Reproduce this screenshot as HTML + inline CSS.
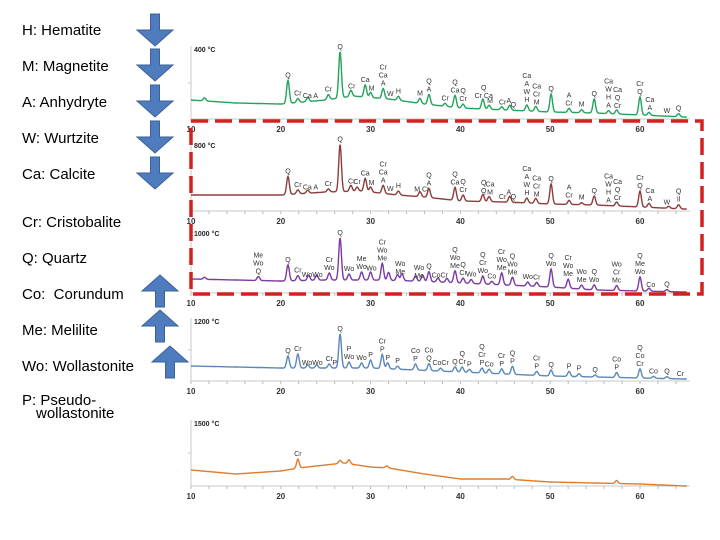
<!DOCTYPE html>
<html><head><meta charset="utf-8">
<style>
body{margin:0;background:#fff;width:720px;height:540px;overflow:hidden;font-family:"Liberation Sans",sans-serif}
svg{position:absolute;left:0;top:0}
</style></head>
<body>
<svg id="s" width="720" height="540" viewBox="0 0 720 540">
 <g id="legend" font-size="15" fill="#000">
  <text x="22" y="35">H: Hematite</text>
  <text x="22" y="71">M: Magnetite</text>
  <text x="22" y="107">A: Anhydryte</text>
  <text x="22" y="143">W: Wurtzite</text>
  <text x="22" y="179">Ca: Calcite</text>
  <text x="22" y="227">Cr: Cristobalite</text>
  <text x="22" y="263">Q: Quartz</text>
  <text x="22" y="299">Co:&#160; Corundum</text>
  <text x="22" y="335">Me: Melilite</text>
  <text x="22" y="371">Wo: Wollastonite</text>
  <text x="22" y="405">P: Pseudo-</text>
  <text x="36" y="418">wollastonite</text>
 </g>
 <g id="arrows"></g>
 <g id="plots"></g>
 <rect x="191" y="121" width="511" height="173" fill="none" stroke="#d42020" stroke-width="3.5" stroke-dasharray="17 7"/>
</svg>
<script>
// ---- data ----
const temps = ["400 °C","800 °C","1000 °C","1200 °C","1500 °C"];
const bg400 = [[10,19],[15,16],[20,15],[25,19],[28,23],[32,20],[36,15],[40,11],[45,9],[50,7],[55,6],[60,4],[65,2]];
const pk400 = [[11.5,3],[20.8,23],[21.9,4],[23.0,4],[25.3,5],[26.6,46],[27.8,6],[29.4,12],[30.0,5],[31.4,10],[33.1,4],[35.5,5],[36.5,10],[38.3,3],[39.4,12],[40.3,4],[42.5,10],[43.2,4],[44.6,3],[45.5,5],[47.4,6],[48.4,5],[50.1,18],[52.1,4],[53.5,3],[54.9,14],[56.5,3],[57.4,4],[60.0,18],[61.0,3],[64.3,3]];
const bg800 = [[10,16],[20,16],[25,19],[29,20],[33,16],[36,14],[40,10],[45,9],[50,7],[55,6],[60,4],[65,2]];
const pk800 = [[20.8,18],[21.9,4],[23.0,3],[25.3,3],[26.6,47],[27.8,6],[28.5,4],[29.4,13],[30.0,5],[31.4,8],[33.1,4],[35.5,5],[36.5,9],[39.4,13],[40.3,6],[42.5,7],[43.2,5],[45.5,6],[47.4,5],[48.4,5],[50.1,20],[52.1,4],[53.5,2],[54.9,9],[57.4,4],[60.0,16],[61.0,4],[63.2,2],[64.3,4]];
const bg1000 = [[10,14],[20,12],[25,13],[30,13],[35,12],[40,10],[45,8],[50,6],[55,3],[60,2],[65,1]];
const pk1000 = [[11.5,2],[17.5,4],[20.8,16],[21.9,5],[23.1,5],[24.0,5],[25.4,7],[26.6,42],[27.6,6],[29.0,8],[30.0,8],[31.3,17],[32.0,8],[33.0,6],[33.5,7],[35.0,5],[35.8,6],[36.5,10],[37.5,4],[38.5,4],[39.4,12],[40.3,5],[41.2,4],[42.5,8],[43.5,3],[44.6,12],[45.8,8],[47.5,4],[48.5,4],[50.1,18],[52.0,9],[53.5,4],[54.9,5],[57.4,5],[60.0,14],[61.0,3],[63.0,2]];
const bg1200 = [[10,15],[20,13],[25,13],[30,13],[35,11],[40,9],[45,7],[50,5],[55,4],[60,3],[65,2]];
const pk1200 = [[20.8,12],[21.9,14],[23.0,3],[24.0,3],[25.4,4],[26.6,34],[27.6,6],[29.0,5],[30.0,8],[31.3,14],[31.9,6],[33.0,3],[35.0,6],[36.5,7],[37.8,3],[39.4,5],[40.2,5],[41.0,3],[42.4,5],[43.2,4],[44.6,5],[45.8,8],[48.5,4],[50.1,6],[52.1,5],[53.2,3],[55.0,2],[57.4,5],[60.0,9],[61.5,2],[63.0,2]];
const bg1500 = [[10,16],[15,12],[20,15],[22,18],[27,23],[30,19],[32,18],[36,12],[40,7],[45,7],[50,4],[55,3],[60,2],[65,0]];
const pk1500 = [[21.9,9],[26.6,3],[27.6,4],[31.8,2],[45.8,3],[57.4,3]];
const lb400 = [[20.8,"Q"],[21.9,"Cr"],[23.3,"Ca A"],[25.3,"Cr"],[26.6,"Q"],[27.9,"Cr"],[29.4,"Ca"],[30.1,"M"],[31.4,"Cr|Ca|A"],[32.2,"W"],[33.1,"H"],[35.5,"M"],[36.5,"Q|A"],[38.3,"Cr"],[39.4,"Q|Ca"],[40.3,"Q|Cr"],[42.6,"Q|Cr Ca"],[43.3,"M"],[44.7,"Cr"],[45.4,"A"],[45.9,"Q"],[47.4,"Ca|A|W|H"],[48.5,"Ca|Cr|M"],[50.1,"Q"],[52.1,"A|Cr"],[53.5,"M"],[54.9,"Q"],[56.5,"Ca|W|H|A"],[57.5,"Ca|Q|Cr"],[60.0,"Cr|Q"],[61.1,"Ca|A"],[63.0,"W"],[64.3,"Q"]];
const lb800 = [[20.8,"Q"],[21.9,"Cr"],[23.3,"Ca A"],[25.3,"Cr"],[26.6,"Q"],[27.9,"Cr"],[28.5,"Cr"],[29.4,"Ca"],[30.1,"M"],[31.4,"Cr|Ca|A"],[32.2,"W"],[33.1,"H"],[35.7,"M Cr"],[36.5,"Q|A"],[39.4,"Q|Ca"],[40.3,"Q|Cr"],[42.6,"Q|Q"],[43.3,"Ca|M"],[44.7,"Cr"],[45.4,"A"],[45.9,"Q"],[47.4,"Ca|A|W|H"],[48.5,"Ca|Cr|M"],[50.1,"Q"],[52.1,"A|Cr"],[53.5,"M"],[54.9,"Q"],[56.5,"Ca|W|H|A"],[57.5,"Ca|Q|Cr"],[60.0,"Cr|Q"],[61.1,"Ca|A"],[63.0,"W"],[64.3,"Q|Il"]];
const lb1000 = [[17.5,"Me|Wo|Q"],[20.8,"Q"],[21.9,"Cr"],[23.5,"WoWo"],[25.4,"Cr|Wo"],[26.6,"Q"],[27.6,"Wo"],[29.0,"Me|Wo"],[30.1,"Wo"],[31.3,"Cr|Wo|Me"],[33.3,"Wo|Me"],[35.4,"Wo|Me"],[36.5,"Q"],[37.7,"CoCr"],[39.4,"Q|Wo|Me"],[40.3,"Q|Cr"],[41.2,"Wo"],[42.5,"Q|Cr|Wo"],[43.5,"Co"],[44.6,"Cr|Wo|Me"],[45.8,"Q|Wo|Me"],[47.5,"Wo"],[48.5,"Cr"],[50.1,"Q|Wo"],[52.0,"Cr|Wo|Me"],[53.5,"Wo|Me"],[54.9,"Q|Wo"],[57.4,"Wo|Cr|Mc"],[60.0,"Q|Me|Wo"],[61.2,"Co"],[63.0,"Q"]];
const lb1200 = [[20.8,"Q"],[21.9,"Cr"],[23.5,"WoWo"],[25.4,"Cr"],[26.0,"P"],[26.6,"Q"],[27.6,"P|Wo"],[29.0,"Wo"],[30.0,"P"],[31.3,"Cr|P"],[31.9,"P"],[33.0,"P"],[35.0,"Co|P"],[36.5,"Co|Q"],[37.8,"CoCr"],[39.4,"Q"],[40.2,"Q|Cr"],[41.0,"P"],[42.4,"Q|Cr|P"],[43.2,"Co"],[44.6,"Cr|P"],[45.8,"Q|P"],[48.5,"Cr|P"],[50.1,"Q"],[52.1,"P"],[53.2,"P"],[55.0,"Q"],[57.4,"Co|P"],[60.0,"Q|Co|Cr"],[61.5,"Co"],[63.0,"Q"],[64.5,"Cr"]];
const lb1500 = [[21.9,"Cr"]];
const xTicks = [10,20,30,40,50,60];

// ---- layout (not data) ----
const panels = [
 {bg:bg400,pk:pk400,lb:lb400,axis:119,top:46,color:"#22a35b",name:"400"},
 {bg:bg800,pk:pk800,lb:lb800,axis:211,top:142,color:"#8e3b3b",name:"800"},
 {bg:bg1000,pk:pk1000,lb:lb1000,axis:293,top:230,color:"#7a3aa3",name:"1000"},
 {bg:bg1200,pk:pk1200,lb:lb1200,axis:381,top:318,color:"#5b87b8",name:"1200"},
 {bg:bg1500,pk:pk1500,lb:lb1500,axis:486,top:420,color:"#e07b2a",name:"1500"}
];
const NS="http://www.w3.org/2000/svg";
const X = t => 191 + (t-10)*8.98;
function mk(tag, attrs, parent){const e=document.createElementNS(NS,tag);for(const k in attrs)e.setAttribute(k,attrs[k]);parent.appendChild(e);return e;}
function bgAt(bg,t){for(let i=0;i<bg.length-1;i++){if(t>=bg[i][0]&&t<=bg[i+1][0]){const f=(t-bg[i][0])/(bg[i+1][0]-bg[i][0]);return bg[i][1]+f*(bg[i+1][1]-bg[i][1]);}}return bg[bg.length-1][1];}
function hAt(p,t){let h=bgAt(p.bg,t);for(const [c,a] of p.pk){const d=(t-c)/0.15;h+=a*Math.exp(-0.5*d*d);}return h;}
const plots=document.getElementById('plots');
panels.forEach((p,i)=>{
 const g=mk('g',{},plots);
 
 
 const ax=mk('line',{x1:191,y1:p.top,x2:191,y2:p.axis,stroke:'#c8c8c8','stroke-width':1},g);
 
 
 mk('line',{x1:188,y1:Math.round((p.top+p.axis)/2),x2:191,y2:Math.round((p.top+p.axis)/2),stroke:'#c8c8c8'},g);
 const xa=mk('line',{x1:191,y1:p.axis,x2:690,y2:p.axis,stroke:'#c8c8c8','stroke-width':1},g);
 
 
 for(let t=10;t<=65;t+=2){mk('line',{x1:X(t),y1:p.axis,x2:X(t),y2:p.axis+3,stroke:'#bbb'},g);}
 xTicks.forEach(v=>{const tx=mk('text',{x:X(v),y:p.axis+13,'font-size':8,'font-weight':'bold','text-anchor':'middle',fill:'#333'},g);tx.textContent=v;
  
  });
 const tl=mk('text',{x:194,y:p.top+6,'font-size':7,'font-weight':'bold',fill:'#222'},g);
 tl.textContent=temps[i];
 
 
 let pts=[];
 for(let t=10;t<=65.2;t+=0.05){pts.push(X(t).toFixed(1)+','+(p.axis-hAt(p,t)).toFixed(1));}
 const pl=mk('polyline',{points:pts.join(' '),fill:'none',stroke:p.color,'stroke-width':1.4},g);
 
 
 p.lb.forEach(([t,s])=>{
  const lines=s.split('|');let yb=p.axis-hAt(p,t)-3;
  const tg=mk('text',{'font-size':7,fill:'#333','text-anchor':'middle'},g);
  
  
  lines.forEach((ln,k)=>{const ts=mk('tspan',{x:X(t),y:yb-(lines.length-1-k)*8},tg);ts.textContent=ln;});
 });
});
// arrows
const ag=document.getElementById('arrows');
function arrow(cx,cy,down,name){
 const w=18,sw=9,hh=16,tot=32;
 let pts;
 if(down){const y0=cy-tot/2;pts=[[cx-sw/2,y0],[cx+sw/2,y0],[cx+sw/2,y0+tot-hh],[cx+w,y0+tot-hh],[cx,y0+tot],[cx-w,y0+tot-hh],[cx-sw/2,y0+tot-hh]];}
 else{const y0=cy+tot/2;pts=[[cx-sw/2,y0],[cx+sw/2,y0],[cx+sw/2,y0-tot+hh],[cx+w,y0-tot+hh],[cx,y0-tot],[cx-w,y0-tot+hh],[cx-sw/2,y0-tot+hh]];}
 const e=mk('polygon',{points:pts.map(q=>q.join(',')).join(' '),fill:'#4f7bbf',stroke:'#3b6196','stroke-width':1},ag);
 
 
}
arrow(155,30,true,'down-arrow-hematite');
arrow(155,65,true,'down-arrow-magnetite');
arrow(155,101,true,'down-arrow-anhydryte');
arrow(155,137,true,'down-arrow-wurtzite');
arrow(155,173,true,'down-arrow-calcite');
arrow(160,291,false,'up-arrow-corundum');
arrow(160,326,false,'up-arrow-melilite');
arrow(170,362,false,'up-arrow-wollastonite');
</script>
</body></html>
